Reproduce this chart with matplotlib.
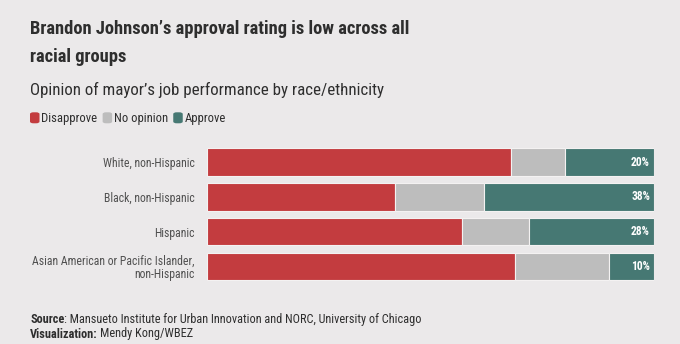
import matplotlib
matplotlib.use("Agg")
import matplotlib.pyplot as plt
from matplotlib.patches import FancyBboxPatch

groups = ["White, non-Hispanic", "Black, non-Hispanic", "Hispanic",
          "Asian American or Pacific Islander,\nnon-Hispanic"]
disapprove = [68, 42, 57, 69]
no_opinion = [12, 20, 15, 21]
approve = [20, 38, 28, 10]
series_names = ["Disapprove", "No opinion", "Approve"]
series_colors = ["#c33c3f", "#bdbdbd", "#467873"]

FONT = ["Roboto Condensed", "DejaVu Sans"]
W, H = 680, 344
BG = "#ebe9ea"
DARK = "#2e2e2e"

fig = plt.figure(figsize=(W / 100, H / 100), dpi=100, facecolor=BG)


def px(x, y):
    return x / W, 1 - y / H


# Stacked horizontal bars
ax_top, ax_bot = 144.8, 283.6
ax = fig.add_axes([207 / W, 1 - ax_bot / H, (654 - 207) / W, (ax_bot - ax_top) / H])
ax.set_facecolor(BG)
ypos = list(range(len(groups)))
left = [0] * len(groups)
for vals, col in zip([disapprove, no_opinion, approve], series_colors):
    ax.barh(ypos, vals, left=left, height=0.79, color=col,
            edgecolor="#f4f2f2", linewidth=0.8)
    left = [l + v for l, v in zip(left, vals)]
for y, v in zip(ypos, approve):
    ax.text(99.1, y, f"{v}%", ha="right", va="center", color="white",
            fontsize=8.3, fontweight="bold", family=FONT)
ax.set_xlim(0, 100)
ax.set_ylim(len(groups) - 0.5, -0.5)
ax.set_yticks(ypos)
ax.set_yticklabels(groups, family=FONT, fontsize=8.5, color="#505050",
                   linespacing=1.0)
ax.tick_params(axis="y", length=0, pad=9)
ax.set_xticks([])
for s in ax.spines.values():
    s.set_visible(False)

# Title and subtitle
fig.text(*px(30, 34.3), "Brandon Johnson\u2019s approval rating is low across all",
         family=FONT, fontsize=13.3, fontweight="bold", color=DARK,
         ha="left", va="baseline")
fig.text(*px(30, 62.5), "racial groups",
         family=FONT, fontsize=13.3, fontweight="bold", color=DARK,
         ha="left", va="baseline")
fig.text(*px(30, 95), "Opinion of mayor\u2019s job performance by race/ethnicity",
         family=FONT, fontsize=12.2, color=DARK, ha="left", va="baseline")

# Legend
lx = 30
for name, col in zip(series_names, series_colors):
    box = FancyBboxPatch((lx / W, 1 - 123.3 / H), 9.5 / W, 11 / H,
                         boxstyle="round,pad=0,rounding_size=0.005",
                         transform=fig.transFigure, facecolor=col,
                         edgecolor="none")
    fig.patches.append(box)
    t = fig.text(*px(lx + 11.5, 122.3), name, family=FONT, fontsize=9.1,
                 color=DARK, ha="left", va="baseline")
    fig.canvas.draw()
    lx = t.get_window_extent().x1 + 5

# Footer
t1 = fig.text(*px(30, 323.3), "Source", family=FONT, fontsize=8.8,
              fontweight="bold", color=DARK, ha="left", va="baseline")
fig.canvas.draw()
fig.text(t1.get_window_extent().x1 / W, 1 - 323.3 / H,
         ": Mansueto Institute for Urban Innovation and NORC, University of Chicago",
         family=FONT, fontsize=8.8, color=DARK, ha="left", va="baseline")
t2 = fig.text(*px(30, 337.5), "Visualization:", family=FONT, fontsize=8.8,
              fontweight="bold", color=DARK, ha="left", va="baseline")
fig.canvas.draw()
fig.text(t2.get_window_extent().x1 / W + 2.5 / W, 1 - 337.5 / H,
         "Mendy Kong/WBEZ", family=FONT, fontsize=8.8, color=DARK,
         ha="left", va="baseline")

fig.savefig("out.png", dpi=100, facecolor=BG)
